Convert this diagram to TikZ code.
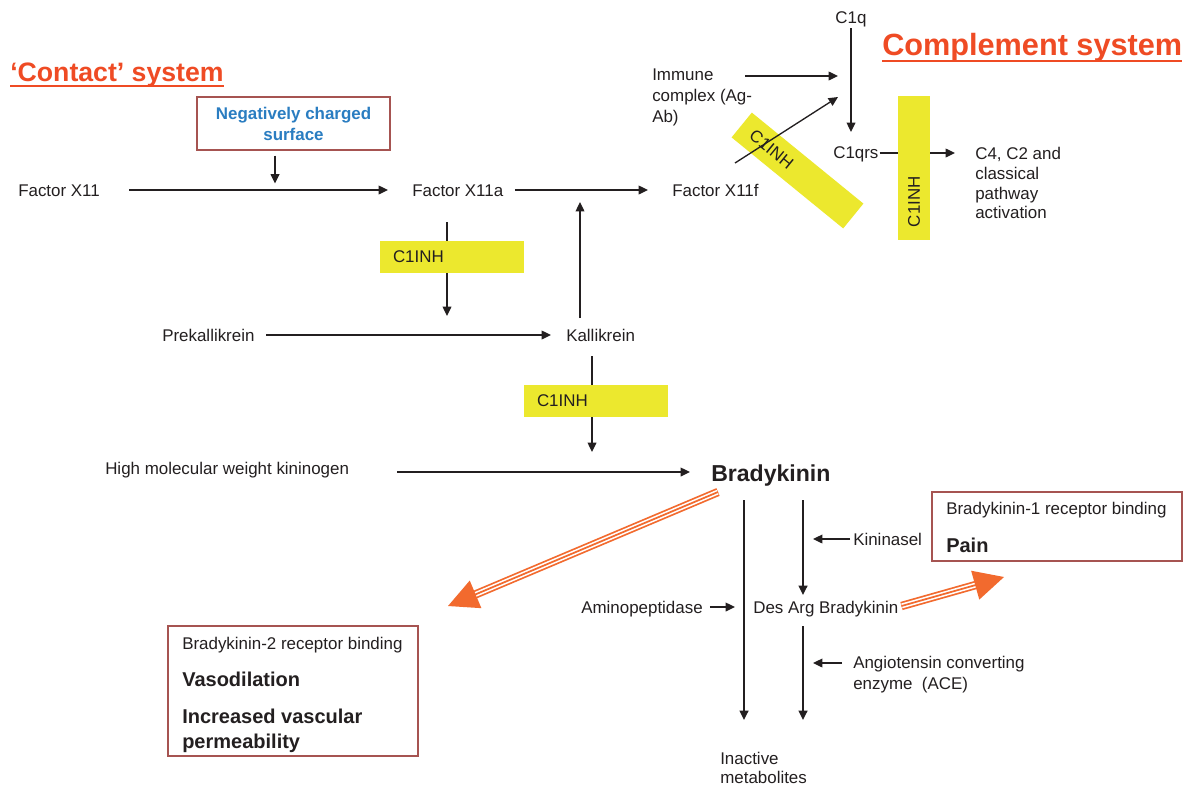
\documentclass[tikz,border=0pt]{standalone}
\usepackage{fontspec}
\setmainfont{Liberation Sans}
\usetikzlibrary{arrows.meta,calc}
\definecolor{txtc}{HTML}{231F20}
\definecolor{yel}{HTML}{ECE82E}
\definecolor{orc}{HTML}{F26A2E}
\definecolor{ttl}{HTML}{EF4B24}
\definecolor{blu}{HTML}{2A7DC1}
\definecolor{bxc}{HTML}{A65451}
\newcommand{\orarrow}[2]{%
  \draw[orc, line width=6.3pt] (#1) -- ($(#2)!21pt!(#1)$);
  \draw[white, line width=3.7pt, shorten <=0.3pt] (#1) -- ($(#2)!21pt!(#1)$);
  \draw[orc, line width=1.3pt] (#1) -- ($(#2)!21pt!(#1)$);
  \fill[orc] (#2) -- ($(#2)!25.1pt!26.6:(#1)$) -- ($(#2)!25.1pt!-26.6:(#1)$) -- cycle;}
\begin{document}
\begin{tikzpicture}[x=0.75pt,y=-0.75pt,
  txt/.style={font=\fontsize{12.7}{15.5}\selectfont, text=txtc, inner sep=0pt, anchor=base west},
  mtxt/.style={font=\fontsize{12.7}{#1}\selectfont, text=txtc, inner sep=0pt, anchor=north west, align=left},
  btxt/.style={font=\fontsize{15}{18}\selectfont\bfseries, text=txtc, inner sep=0pt, anchor=base west},
  ttlstyle/.style={text=ttl, inner sep=0pt, anchor=base west},
  arr/.style={draw=txtc, line width=1pt, -{Triangle[length=7pt,width=6.5pt]}},
  arrb/.style={arr, line width=1.6pt},
  inhbox/.style={fill=yel, draw=none, font=\fontsize{12.7}{15}\selectfont, text=txtc,
     minimum height=24pt, inner ysep=0pt, inner xsep=9.75pt, text width=88.5pt, align=left},
  outbox/.style={draw=bxc, line width=0.8pt, fill=white}
]
\fill[white] (0,0) rectangle (1187,786);
\useasboundingbox (0,0) rectangle (1187,786);

% titles
\node[ttlstyle, font=\fontsize{20}{24}\selectfont\bfseries] (contact) at (10,81) {‘Contact’ system};
\draw[ttl, line width=1.5pt] ($(contact.base west)+(0,4.5)$) -- ($(contact.base east)+(0,4.5)$);
\node[ttlstyle, font=\fontsize{23}{27}\selectfont\bfseries] (compl) at (882,55) {Complement system};
\draw[ttl, line width=1.5pt] ($(compl.base west)+(0,5.5)$) -- ($(compl.base east)+(0,5.5)$);

% contact system nodes
\node[outbox, minimum width=144.75pt, minimum height=39.75pt, inner sep=0pt,
      font=\fontsize{12.7}{15.75}\selectfont\bfseries, text=blu, align=center] (neg) at (293.5,123.5)
      {Negatively charged\\surface};
\node[txt] (fx11) at (18,196) {Factor X11};
\node[txt] (fx11a) at (412,196) {Factor X11a};
\node[txt] (fx11f) at (672,196) {Factor X11f};
\node[txt] (prek) at (162,341) {Prekallikrein};
\node[txt] (kal) at (566,341) {Kallikrein};
\node[txt] (hmwk) at (105,474) {High molecular weight kininogen};
\node[txt, font=\fontsize{17.3}{20}\selectfont\bfseries] (brady) at (711,481) {Bradykinin};

% complement nodes
\node[txt, anchor=base] (c1q) at (851,23) {C1q};
\node[mtxt=15.75pt] (immune) at (652,69) {Immune\\complex (Ag-\\Ab)};
\node[txt] (c1qrs) at (833,158) {C1qrs};
\node[mtxt=14.8pt] (c4) at (975,147) {C4, C2 and\\classical\\pathway\\activation};

% bradykinin metabolism nodes
\node[txt] (kin) at (853,545) {Kininasel};
\node[txt] (amino) at (581,613) {Aminopeptidase};
\node[txt] (desarg) at (753,613) {Des Arg Bradykinin};
\node[mtxt=15.75pt] (ace) at (853,656) {Angiotensin converting\\enzyme\ \ (ACE)};
\node[mtxt=14.25pt] (inact) at (720,752) {Inactive\\metabolites};

% effect boxes
\node[outbox, minimum width=187.5pt, minimum height=51.75pt] (b1) at (1057,526.5) {};
\node[txt] (b1t) at (946,514) {Bradykinin-1 receptor binding};
\node[btxt] (pain) at (946,552) {Pain};
\node[outbox, minimum width=187.5pt, minimum height=97.5pt] (b2) at (293,691) {};
\node[txt] (b2t) at (182,649) {Bradykinin-2 receptor binding};
\node[btxt] (vaso) at (182,686) {Vasodilation};
\node[btxt] (perm1) at (182,723) {Increased vascular};
\node[btxt] (perm2) at (182,748) {permeability};

% connectors (contact)
\draw[arr, shorten <=22pt, shorten >=18pt] ($(fx11.base east)+(0,-6)$) -- ($(fx11a.base west)+(0,-6)$);
\draw[arr, shorten <=8.5pt, shorten >=18pt] ($(fx11a.base east)+(0,-6)$) -- ($(fx11f.base west)+(0,-6)$);
\draw[arr] ($(neg.south)+(-18.5,5)$) -- ($(neg.south)+(-18.5,33)$);
\draw[arr] ($(fx11a.base west)+(35,26)$) -- ($(fx11a.base west |- kal.base)+(35,-25)$);
\draw[arr, shorten <=8.5pt, shorten >=11.25pt] ($(prek.base east)+(0,-6)$) -- ($(kal.base west)+(0,-6)$);
\draw[arr] ($(kal.base west)+(14,-23)$) -- ($(kal.base west |- fx11a.base)+(14,6)$);
\draw[arr] ($(kal.base west)+(26,15)$) -- ($(kal.base west |- hmwk.base)+(26,-22)$);
\draw[arr, shorten <=36pt, shorten >=15.75pt] ($(hmwk.base east)+(0,-2)$) -- ($(hmwk.base east -| brady.base west)+(0,-2)$);

% connectors (bradykinin)
\draw[arrb] ($(brady.base west)+(33,19)$) -- ($(inact.north west)+(24,-32)$);
\draw[arrb] ($(brady.base west)+(92,19)$) -- ($(desarg.base west)+(50,-18)$);
\draw[arrb] ($(desarg.base west)+(50,13)$) -- ($(inact.north west)+(83,-32)$);
\draw[arr] ($(kin.base west)+(-3,-6)$) -- ($(kin.base west)+(-40,-6)$);
\draw[arr] ($(amino.base east)+(7,-6)$) -- ($(desarg.base west)+(-18,-6)$);
\draw[arr] ($(ace.north west)+(-11,7)$) -- ($(ace.north west)+(-40,7)$);

% connectors (complement)
\draw[arr] ($(c1q.base)+(0,5)$) -- ($(c1q.base |- c1qrs.base)+(0,-26)$);
\draw[arr] ($(immune.north west)+(93,7)$) -- ($(c1q.base)+(-13,53)$);
\draw[arr] ($(c1qrs.base east)+(1,-5)$) -- ($(c4.north west)+(-20,6)$);

% inhibitor boxes
\node[inhbox] (inh1) at (452,257) {C1INH};
\node[inhbox] (inh2) at (596,401) {C1INH};
\node[inhbox, rotate=90] (inh4) at (914,168) {C1INH};
\node[inhbox, rotate=-39.2] (inh3) at (797.5,170.5) {C1INH};
\draw[arr] ($(fx11f.base west)+(63,-33)$) -- ($(c1q.base)+(-13,74)$);

% orange arrows
\coordinate (tip2) at (448,606);
\coordinate (tip1) at (1004,577);
\coordinate (s2) at ($(brady.base west)+(7,11)$);
\coordinate (s1) at ($(desarg.base east)+(3,-7)$);
\orarrow{s2}{tip2}
\orarrow{s1}{tip1}
\end{tikzpicture}
\end{document}
